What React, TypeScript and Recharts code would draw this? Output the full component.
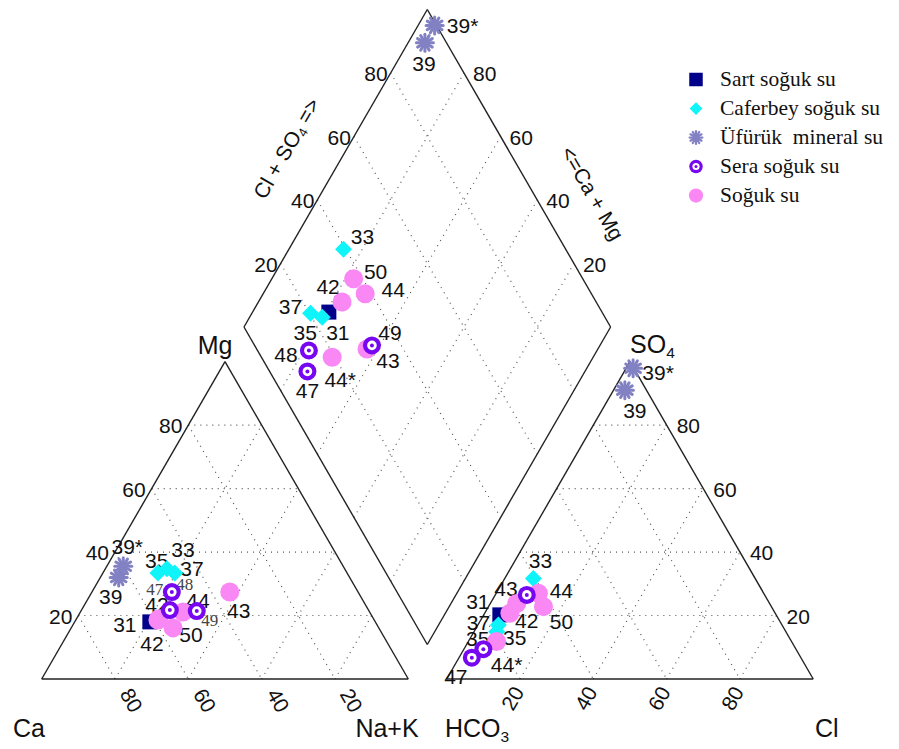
import React from 'react';
import { ScatterChart, Scatter, XAxis, YAxis, ReferenceLine } from 'recharts';

const W = 899;
const H = 749;

// sample numbers of each water group
const sartIds = ['31'];
const caferbeyIds = ['33', '35', '37'];
const ufurukIds = ['39', '39*'];
const seraIds = ['47', '48', '49'];
const sogukIds = ['42', '43', '44', '44*', '50'];

// cation triangle, % meq/l: [Ca, Mg, Na+K]
const sartCations = [[61.5, 18, 20.5]];
const caferbeyCations = [[51.6, 33.4, 15], [47, 33.4, 19.6], [48.5, 34.7, 16.8]];
const ufurukCations = [[63, 32, 5], [60, 35.5, 4.5]];
const seraCations = [[54.2, 21.7, 24.1], [50.8, 27.4, 21.8], [47, 21.4, 31.6]];
const sogukCations = [[59, 18.6, 22.4], [35, 27.4, 37.6], [50.9, 21.1, 28], [56.1, 16.1, 27.8], [58.5, 19, 22.5]];

// anion triangle, % meq/l: [HCO3, SO4, Cl]
const sartAnions = [[75.4, 20.2, 4.4]];
const caferbeyAnions = [[60.5, 31.7, 7.8], [78.9, 14.9, 6.2], [77.4, 17, 5.6]];
const ufurukAnions = [[5.9, 91, 3.1], [0.2, 97.9, 1.9]];
const seraAnions = [[89.8, 6.7, 3.5], [85.3, 9.4, 5.3], [64.9, 26.5, 8.6]];
const sogukAnions = [[69, 23.8, 7.2], [72.4, 20.7, 6.9], [61.5, 27, 11.5], [80.5, 11.8, 7.7], [62.2, 22.8, 15]];

// central diamond: [Na+K, Cl+SO4]
const sartDiamond = [[20.8, 25.5]];
const caferbeyDiamond = [[14.9, 39.4], [19.8, 22.9], [16, 20.3]];
const ufurukDiamond = [[4.6, 94.1], [4.5, 99.5]];
const seraDiamond = [[24.3, 10.3], [21.4, 14], [37.8, 32]];
const sogukDiamond = [[22.8, 30.7], [37, 30.1], [27.8, 38.3], [28.8, 19.3], [22.3, 37.5]];

const TICKS = [20, 40, 60, 80];

// sample labels: [text, sample, dx, dy, small serif]
const cationLabels: any[] = [
  ['39*', '39*', 4, -20], ['39', '39', -8, 19], ['35', '35', -18, -13], ['33', '33', 25, -24],
  ['37', '37', 25, -1], ['47', '47', -15, -21, 1], ['48', '48', 13, -8, 1], ['42', '42', -1, -16],
  ['44', '44', 15, -12], ['31', '31', -25, 2], ['49', '49', 13, 9, 1], ['43', '43', 9, 18],
  ['50', '50', 32, 15], ['42', '42', -6, 23],
];
const anionLabels: any[] = [
  ['39*', '39*', 25, 4], ['39', '39', 10, 20], ['33', '33', 7, -18], ['43', '43', -4, -25],
  ['44', '44', 23, -3], ['31', '31', -22, -14], ['37', '37', -20, -3], ['42', '42', 10, 17],
  ['50', '50', 18, 14], ['35', '35', -19, 6], ['35', '35', 18, 5], ['44*', '44*', 10, 22],
  ['47', '47', -16, 18],
];
const diamondLabels: any[] = [
  ['39*', '39*', 28, 0], ['39', '39', -1, 20], ['33', '33', 19, -13], ['50', '50', 22, -8],
  ['44', '44', 28, -5], ['42', '42', -14, -16], ['37', '37', -20, -7], ['35', '35', -17, 15],
  ['31', '31', 9, 20], ['49', '49', 18, -13], ['43', '43', 21, 11], ['48', '48', -23, 4],
  ['47', '47', 0, 19], ['44*', '44*', 8, 22],
];

const SANS = '"Liberation Sans", Arial, Helvetica, sans-serif';
const SERIF = '"Liberation Serif", "Times New Roman", serif';

// corners of the three plot areas (chart pixels)
const CAT = { ca: [41.7, 679], mg: [225, 361.6], nak: [408.3, 679] };
const ANI = { hco3: [446.7, 679], so4: [630, 361.6], cl: [813.2, 679] };
const DIA = { b: [427.3, 644.5], l: [244, 327], r: [610.6, 327] };

const tri = (A: number[], B: number[], C: number[]) => (a: number, b: number, c: number) => ({
  x: (a * A[0] + b * B[0] + c * C[0]) / 100,
  y: (a * A[1] + b * B[1] + c * C[1]) / 100,
});
const cationXY = tri(CAT.ca, CAT.mg, CAT.nak);
const anionXY = tri(ANI.hco3, ANI.so4, ANI.cl);
const diamondXY = (nak: number, an: number) => {
  const cm = (100 - nak) / 100;
  const a = an / 100;
  return {
    x: DIA.b[0] + cm * (DIA.l[0] - DIA.b[0]) + a * (DIA.r[0] - DIA.b[0]),
    y: DIA.b[1] + cm * (DIA.l[1] - DIA.b[1]) + a * (DIA.r[1] - DIA.b[1]),
  };
};

const GROUPS = [
  { name: 'Sart soğuk su', ids: sartIds, cat: sartCations, ani: sartAnions, dia: sartDiamond, kind: 'square', color: '#00008b' },
  { name: 'Caferbey soğuk su', ids: caferbeyIds, cat: caferbeyCations, ani: caferbeyAnions, dia: caferbeyDiamond, kind: 'diamond', color: '#0ff4f8' },
  { name: 'Üfürük  mineral su', ids: ufurukIds, cat: ufurukCations, ani: ufurukAnions, dia: ufurukDiamond, kind: 'asterisk', color: '#8181c3' },
  { name: 'Sera soğuk su', ids: seraIds, cat: seraCations, ani: seraAnions, dia: seraDiamond, kind: 'ring', color: '#7607f0' },
  { name: 'Soğuk su', ids: sogukIds, cat: sogukCations, ani: sogukAnions, dia: sogukDiamond, kind: 'dot', color: '#f987f4' },
];
// pink circles sit under the Sera rings
const DRAW_ORDER = [GROUPS[0], GROUPS[1], GROUPS[2], GROUPS[4], GROUPS[3]];

const PANELS = [
  { key: 'cat', xy: (v: number[]) => cationXY(v[0], v[1], v[2]), labels: cationLabels },
  { key: 'ani', xy: (v: number[]) => anionXY(v[0], v[1], v[2]), labels: anionLabels },
  { key: 'dia', xy: (v: number[]) => diamondXY(v[0], v[1]), labels: diamondLabels },
];

// frame and dotted grid
const frame: any[] = [
  [cationXY(100, 0, 0), cationXY(0, 0, 100)], [cationXY(0, 0, 100), cationXY(0, 100, 0)], [cationXY(0, 100, 0), cationXY(100, 0, 0)],
  [anionXY(100, 0, 0), anionXY(0, 0, 100)], [anionXY(0, 0, 100), anionXY(0, 100, 0)], [anionXY(0, 100, 0), anionXY(100, 0, 0)],
  [diamondXY(100, 0), diamondXY(0, 0)], [diamondXY(0, 0), diamondXY(0, 100)], [diamondXY(0, 100), diamondXY(100, 100)], [diamondXY(100, 100), diamondXY(100, 0)],
];
const grid: any[] = [];
TICKS.forEach((v) => {
  grid.push([cationXY(100 - v, v, 0), cationXY(0, v, 100 - v)]);
  grid.push([cationXY(v, 100 - v, 0), cationXY(v, 0, 100 - v)]);
  grid.push([cationXY(100 - v, 0, v), cationXY(0, 100 - v, v)]);
  grid.push([anionXY(100 - v, v, 0), anionXY(0, v, 100 - v)]);
  grid.push([anionXY(v, 100 - v, 0), anionXY(v, 0, 100 - v)]);
  grid.push([anionXY(100 - v, 0, v), anionXY(0, 100 - v, v)]);
  grid.push([diamondXY(v, 0), diamondXY(v, 100)]);
  grid.push([diamondXY(0, v), diamondXY(100, v)]);
});

// all text of the figure
const texts: any[] = [];
const addText = (x: number, y: number, parts: any[], o: any = {}) =>
  texts.push({ x, y, parts, size: o.size || 21, family: o.family || SANS, color: o.color || '#111', anchor: o.anchor || 'middle', rotate: o.rotate || 0 });

TICKS.forEach((v) => {
  const mg = cationXY(100 - v, v, 0);
  addText(mg.x - 6, mg.y, [[String(v)]], { anchor: 'end' });
  const ca = cationXY(v, 0, 100 - v);
  addText(ca.x + 17, ca.y + 21, [[String(v)]], { rotate: 60 });
  const so = anionXY(0, v, 100 - v);
  addText(so.x + 10, so.y, [[String(v)]], { anchor: 'start' });
  const cl = anionXY(100 - v, 0, v);
  addText(cl.x - 8, cl.y + 19, [[String(v)]], { rotate: -60 });
  const dl = diamondXY(0, v);
  addText(dl.x - 3, dl.y, [[String(v)]], { anchor: 'end' });
  const dr = diamondXY(100 - v, 100);
  addText(dr.x + 9, dr.y, [[String(v)]], { anchor: 'start' });
});

addText(215, 345, [['Mg']], { size: 25 });
addText(29, 728, [['Ca']], { size: 25 });
addText(387, 728, [['Na+K']], { size: 25 });
addText(445, 728, [['HCO'], ['3', 1]], { size: 25, anchor: 'start' });
addText(815, 728, [['Cl']], { size: 25, anchor: 'start' });
addText(630, 344, [['SO'], ['4', 1]], { size: 25, anchor: 'start' });
addText(286, 148, [['Cl + SO'], ['4', 1], [' =>']], { size: 21, rotate: -60 });
addText(593, 193, [['<=Ca + Mg']], { size: 21, rotate: 60 });

const seriesData: any = {};
PANELS.forEach((p) => {
  const pos: any = {};
  GROUPS.forEach((g: any) => {
    const vals = g[p.key];
    seriesData[p.key + g.kind] = g.ids.map((id: string, i: number) => {
      const xy = p.xy(vals[i]);
      pos[id] = xy;
      return { ...xy, id };
    });
  });
  p.labels.forEach(([t, id, dx, dy, small]: any) => {
    const a = pos[id];
    addText(a.x + dx, a.y + dy, [[t]], small ? { size: 17, family: SERIF, color: '#444' } : {});
  });
});

const TextShape = (props: any) => {
  const { cx, cy, payload: p } = props;
  if (cx == null || !p) return <g />;
  let shift = 0;
  return (
    <text
      x={cx}
      y={cy}
      fontSize={p.size}
      fontFamily={p.family}
      fill={p.color}
      textAnchor={p.anchor}
      dominantBaseline="central"
      style={{ whiteSpace: 'pre' }}
      transform={p.rotate ? `rotate(${p.rotate} ${cx} ${cy})` : undefined}
    >
      {p.parts.map(([t, sub]: any, i: number) => {
        const target = sub ? p.size * 0.3 : 0;
        const dy = target - shift;
        shift = target;
        return (
          <tspan key={i} dy={dy || undefined} fontSize={sub ? p.size * 0.62 : undefined}>
            {t}
          </tspan>
        );
      })}
    </text>
  );
};

const Marker = ({ kind, color, cx, cy, k = 1 }: any) => {
  if (kind === 'square') {
    const s = 7.5 * k;
    return <rect x={cx - s} y={cy - s} width={2 * s} height={2 * s} fill={color} />;
  }
  if (kind === 'diamond') {
    const d = 8.5 * k;
    return <polygon points={`${cx},${cy - d} ${cx + d},${cy} ${cx},${cy + d} ${cx - d},${cy}`} fill={color} />;
  }
  if (kind === 'asterisk') {
    const r = 8.5 * k;
    return (
      <g stroke={color} strokeWidth={3 * k} strokeLinecap="round">
        {[0, 30, 60, 90, 120, 150].map((a) => {
          const dx = r * Math.cos((a * Math.PI) / 180);
          const dy = r * Math.sin((a * Math.PI) / 180);
          return <line key={a} x1={cx - dx} y1={cy - dy} x2={cx + dx} y2={cy + dy} />;
        })}
        <circle cx={cx} cy={cy} r={3.5 * k} fill={color} stroke="none" />
      </g>
    );
  }
  if (kind === 'ring') {
    return (
      <g>
        <circle cx={cx} cy={cy} r={9 * k} fill={color} />
        <circle cx={cx} cy={cy} r={4.8 * k} fill="#fff" />
        <circle cx={cx} cy={cy} r={2 * k} fill={color} />
      </g>
    );
  }
  return <circle cx={cx} cy={cy} r={9.5 * k} fill={color} />;
};

const LegendBox = () => (
  <div style={{ position: 'absolute', left: 680, top: 65, fontFamily: SERIF, fontSize: 21.5, color: '#111' }}>
    {GROUPS.map((g) => (
      <div key={g.name} style={{ height: 29, display: 'flex', alignItems: 'center' }}>
        <svg width={40} height={29}>
          <Marker kind={g.kind} color={g.color} cx={16} cy={14.5} k={g.kind === 'square' ? 0.9 : 0.75} />
        </svg>
        <span style={{ whiteSpace: 'pre' }}>{g.name}</span>
      </div>
    ))}
  </div>
);

export default function App() {
  return (
    <div style={{ position: 'absolute', left: 0, top: 0, width: W, height: H, background: '#fff', overflow: 'hidden' }}>
      <ScatterChart width={W} height={H} margin={{ top: 0, right: 0, bottom: 0, left: 0 }}>
        <XAxis type="number" dataKey="x" domain={[0, W]} allowDataOverflow hide />
        <YAxis type="number" dataKey="y" domain={[0, H]} allowDataOverflow reversed hide />
        {grid.map((s, i) => (
          <ReferenceLine key={'g' + i} segment={s} stroke="#555" strokeWidth={1.2} strokeDasharray="1 5" />
        ))}
        {frame.map((s, i) => (
          <ReferenceLine key={'f' + i} segment={s} stroke="#222" strokeWidth={1.4} />
        ))}
        <Scatter data={texts} shape={TextShape} isAnimationActive={false} />
        {PANELS.map((p) =>
          DRAW_ORDER.map((g) => (
            <Scatter
              key={p.key + g.kind}
              data={seriesData[p.key + g.kind]}
              shape={(props: any) => <Marker kind={g.kind} color={g.color} cx={props.cx} cy={props.cy} />}
              isAnimationActive={false}
            />
          ))
        )}
      </ScatterChart>
      <LegendBox />
    </div>
  );
}
